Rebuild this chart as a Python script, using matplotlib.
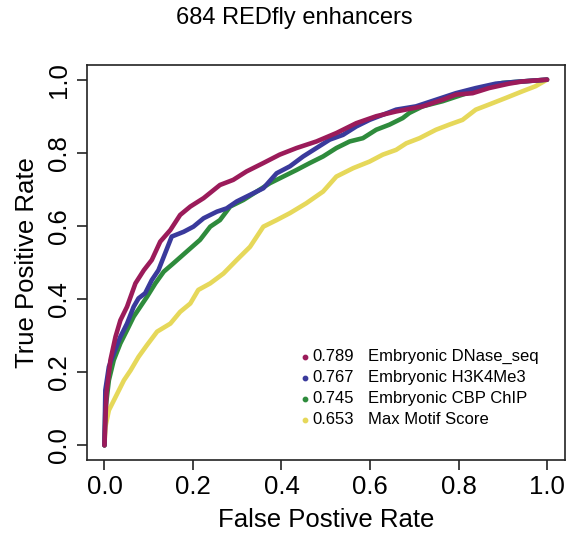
import matplotlib
matplotlib.use("Agg")
import matplotlib.pyplot as plt
import numpy as np

plt.rcParams["font.family"] = ["Liberation Sans", "DejaVu Sans"]

NAMES = ["Embryonic DNase_seq", "Embryonic H3K4Me3", "Embryonic CBP ChIP", "Max Motif Score"]
AUCS = ["0.789", "0.767", "0.745", "0.653"]
COLORS = ["#9b1b5a", "#3a3a9c", "#2e8b3c", "#e6d85a"]

dnase_fpr = [0, 0.0045, 0.0135, 0.025, 0.036, 0.051, 0.070, 0.089, 0.107, 0.126, 0.149, 0.171,
             0.194, 0.224, 0.261, 0.291, 0.321, 0.359, 0.396, 0.434, 0.479, 0.524, 0.569, 0.614,
             0.659, 0.719, 0.764, 0.794, 0.832, 0.869, 0.914, 0.944, 1.0]
dnase_tpr = [0, 0.142, 0.233, 0.297, 0.342, 0.379, 0.443, 0.479, 0.507, 0.557, 0.589, 0.630,
             0.653, 0.676, 0.712, 0.726, 0.749, 0.772, 0.795, 0.813, 0.831, 0.854, 0.881, 0.900,
             0.913, 0.927, 0.945, 0.959, 0.963, 0.977, 0.989, 0.995, 1.0]

h3k_fpr = [0, 0.002, 0.010, 0.021, 0.036, 0.051, 0.066, 0.077, 0.092, 0.107, 0.122, 0.137, 0.152,
           0.179, 0.201, 0.224, 0.254, 0.276, 0.299, 0.329, 0.359, 0.389, 0.419, 0.449, 0.479,
           0.509, 0.539, 0.569, 0.599, 0.629, 0.659, 0.704, 0.749, 0.794, 0.839, 0.884, 0.929, 1.0]
h3k_tpr = [0, 0.151, 0.215, 0.251, 0.297, 0.333, 0.379, 0.402, 0.416, 0.452, 0.479, 0.525, 0.571,
           0.584, 0.598, 0.621, 0.639, 0.648, 0.667, 0.685, 0.703, 0.744, 0.763, 0.790, 0.813,
           0.836, 0.849, 0.872, 0.890, 0.904, 0.918, 0.927, 0.945, 0.963, 0.977, 0.989, 0.994, 1.0]

cbp_fpr = [0, 0.002, 0.010, 0.021, 0.036, 0.051, 0.066, 0.081, 0.096, 0.115, 0.134, 0.156, 0.186,
           0.216, 0.239, 0.261, 0.284, 0.314, 0.344, 0.374, 0.404, 0.434, 0.464, 0.494, 0.524,
           0.554, 0.584, 0.614, 0.644, 0.674, 0.689, 0.719, 0.764, 0.809, 0.854, 0.899, 0.944, 1.0]
cbp_tpr = [0, 0.096, 0.178, 0.233, 0.279, 0.315, 0.352, 0.379, 0.406, 0.443, 0.475, 0.498, 0.530,
           0.562, 0.598, 0.616, 0.653, 0.671, 0.694, 0.717, 0.735, 0.753, 0.772, 0.790, 0.813,
           0.831, 0.840, 0.863, 0.877, 0.895, 0.909, 0.927, 0.941, 0.959, 0.977, 0.991, 0.995, 1.0]

motif_fpr = [0, 0.002, 0.010, 0.025, 0.044, 0.059, 0.077, 0.096, 0.119, 0.149, 0.171, 0.194,
             0.212, 0.239, 0.269, 0.299, 0.329, 0.359, 0.389, 0.419, 0.456, 0.494, 0.524, 0.562,
             0.599, 0.629, 0.659, 0.682, 0.712, 0.749, 0.779, 0.809, 0.839, 0.869, 0.907, 0.944,
             0.974, 1.0]
motif_tpr = [0, 0.050, 0.096, 0.132, 0.178, 0.205, 0.242, 0.274, 0.311, 0.333, 0.365, 0.388,
             0.425, 0.443, 0.470, 0.507, 0.543, 0.598, 0.616, 0.635, 0.662, 0.694, 0.735, 0.758,
             0.776, 0.795, 0.808, 0.826, 0.840, 0.863, 0.877, 0.890, 0.918, 0.932, 0.950, 0.968,
             0.982, 1.0]

curves = [(dnase_fpr, dnase_tpr), (h3k_fpr, h3k_tpr), (cbp_fpr, cbp_tpr), (motif_fpr, motif_tpr)]
TICKS = [0.0, 0.2, 0.4, 0.6, 0.8, 1.0]

fig = plt.figure(figsize=(5.67, 5.33), dpi=100)
ax = fig.add_axes([0.153, 0.137, 0.843, 0.741])

# yellow drawn first so the others sit on top
for idx in [3, 2, 1, 0]:
    fpr, tpr = curves[idx]
    ax.plot(fpr, tpr, color=COLORS[idx], linewidth=3.3, solid_joinstyle="round",
            solid_capstyle="round")

ax.set_xlim(-0.04, 1.04)
ax.set_ylim(-0.04, 1.04)
ax.set_xticks(TICKS)
ax.set_yticks(TICKS)
ax.set_xticklabels([f"{t:.1f}" for t in TICKS])
ax.set_yticklabels([f"{t:.1f}" for t in TICKS], rotation=90, va="center")
ax.tick_params(direction="out", length=7, width=1.2, labelsize=18.5, pad=4, color="#222222")
for spine in ax.spines.values():
    spine.set_linewidth(1.2)
    spine.set_color("#222222")

ax.set_xlabel("False Postive Rate", fontsize=18.5, labelpad=6)
ax.set_ylabel("True Positive Rate", fontsize=18.5, labelpad=6)
fig.text(0.519, 0.966, "684 REDfly enhancers", fontsize=17, ha="center", va="center")

for i, (name, auc, color) in enumerate(zip(NAMES, AUCS, COLORS)):
    y = 0.261 - i * 0.053
    ax.scatter([0.456], [y], s=10, color=color, transform=ax.transAxes, zorder=5)
    ax.text(0.471, y, auc, fontsize=12, va="center", ha="left", transform=ax.transAxes)
    ax.text(0.588, y, name, fontsize=12, va="center", ha="left", transform=ax.transAxes)

fig.savefig("out.png", dpi=100)
